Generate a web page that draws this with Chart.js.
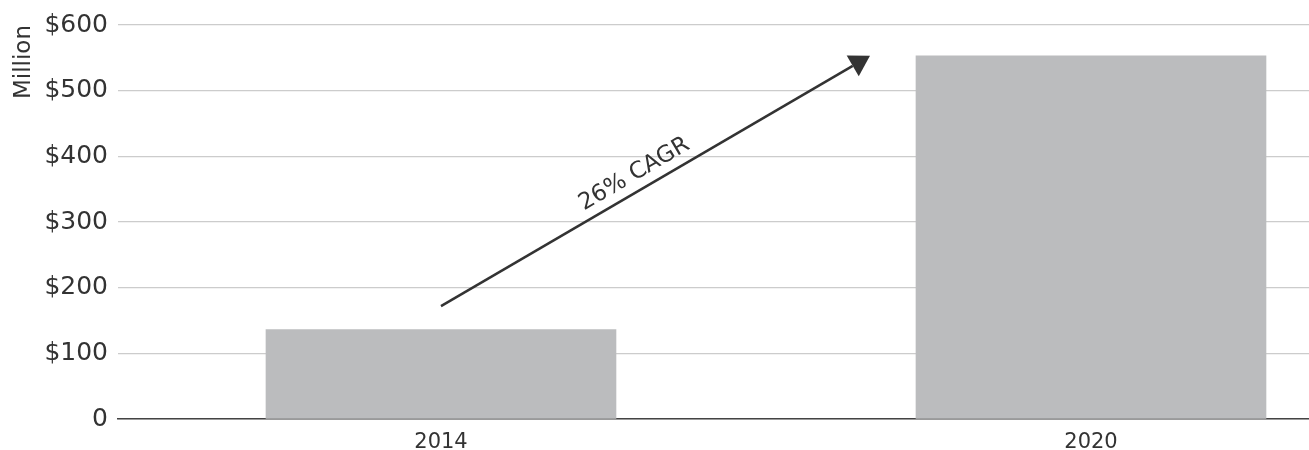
<!DOCTYPE html>
<html>
<head>
<meta charset="utf-8">
<script src="https://cdn.jsdelivr.net/npm/chart.js@4/dist/chart.umd.min.js"></script>
<style>
  html, body { margin: 0; padding: 0; background: #fff; overflow: hidden; }
  #wrap { width: 1309px; height: 450px; }
</style>
</head>
<body>
<div id="wrap"><canvas id="chart"></canvas></div>
<script>
const categories = ["2014", "2020"];
const marketSize = [136, 553];
const yTicks = [0, 100, 200, 300, 400, 500, 600];
const arrowFrom = { x: 0, y: 172 };
const arrowTo = { x: 0.66, y: 553 };
const arrowLabel = "26% CAGR";

const FONT = "'DejaVu Sans', sans-serif";
const TEXT = "#333";

const cagrArrow = {
  id: "cagrArrow",
  afterDatasetsDraw(chart) {
    const { ctx, scales: { x, y } } = chart;
    const x1 = x.getPixelForValue(arrowFrom.x), y1 = y.getPixelForValue(arrowFrom.y);
    const x2 = x.getPixelForValue(arrowTo.x), y2 = y.getPixelForValue(arrowTo.y);
    const ang = Math.atan2(y2 - y1, x2 - x1);
    const len = 20, half = 12;
    ctx.save();
    ctx.strokeStyle = "#333";
    ctx.fillStyle = "#333";
    ctx.lineWidth = 2.5;
    ctx.beginPath();
    ctx.moveTo(x1, y1);
    ctx.lineTo(x2 - Math.cos(ang) * len, y2 - Math.sin(ang) * len);
    ctx.stroke();
    ctx.translate(x2, y2);
    ctx.rotate(ang);
    ctx.beginPath();
    ctx.moveTo(0, 0);
    ctx.lineTo(-len, -half);
    ctx.lineTo(-len, half);
    ctx.closePath();
    ctx.fill();
    ctx.restore();

    // label along the arrow, a bit above it
    const mx = x1 + (x2 - x1) * 0.47, my = y1 + (y2 - y1) * 0.47;
    ctx.save();
    ctx.translate(mx, my);
    ctx.rotate(ang);
    ctx.font = "23px " + FONT;
    ctx.fillStyle = TEXT;
    ctx.textAlign = "center";
    ctx.textBaseline = "bottom";
    ctx.fillText(arrowLabel, 0, -5);
    ctx.restore();
  }
};

new Chart(document.getElementById("chart"), {
  type: "bar",
  data: {
    datasets: [{
      data: marketSize.map((v, i) => ({ x: i, y: v })),
      backgroundColor: "#bbbcbe",
      barThickness: 350
    }]
  },
  options: {
    responsive: true,
    maintainAspectRatio: false,
    animation: false,
    layout: { padding: { top: 6, right: 0, left: 0, bottom: 0 } },
    plugins: { legend: { display: false }, tooltip: { enabled: false } },
    scales: {
      x: {
        type: "linear",
        offset: false,
        min: -0.4969,
        max: 1.3354,
        afterBuildTicks: (axis) => { axis.ticks = categories.map((c, i) => ({ value: i })); },
        afterFit: (axis) => { axis.height = 31; },
        ticks: {
          callback: (v) => categories[v],
          color: TEXT,
          font: { family: FONT, size: 21 },
          maxRotation: 0,
          padding: 3
        },
        grid: { display: false },
        border: { color: "#444", width: 1.5 }
      },
      y: {
        min: 0,
        max: 600,
        afterBuildTicks: (axis) => { axis.ticks = yTicks.map((v) => ({ value: v })); },
        afterFit: (axis) => { axis.width = 118; },
        ticks: {
          callback: (v) => (v === 0 ? "0" : "$" + v),
          color: TEXT,
          font: { family: FONT, size: 25 },
          padding: 10
        },
        grid: { color: "#cccccc", lineWidth: 1.2, drawTicks: false },
        border: { display: false },
        title: {
          display: true,
          text: "Million",
          align: "end",
          color: TEXT,
          font: { family: FONT, size: 23 },
          padding: { top: 10, bottom: 0 }
        }
      }
    }
  },
  plugins: [cagrArrow]
});
</script>
</body>
</html>
